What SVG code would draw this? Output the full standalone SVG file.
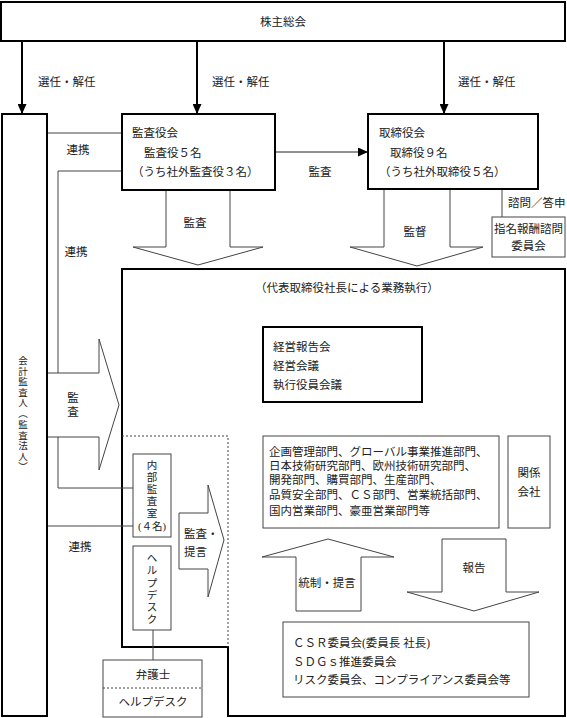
<svg xmlns="http://www.w3.org/2000/svg" width="567" height="718" viewBox="0 0 567 718">
<defs>
<style>
text{font-family:"Liberation Serif","Noto Sans CJK JP",serif;font-size:11.5px;fill:#222;dominant-baseline:central}
.c{text-anchor:middle}
.v{font-size:9.5px;text-anchor:middle}
.s{font-size:10.5px;text-anchor:middle}
.bx{fill:#fff;stroke:#000;stroke-width:2}
.tb{fill:#fff;stroke:#444;stroke-width:1}
.ln{fill:none;stroke:#444;stroke-width:1}
.ha{fill:#fff;stroke:#444;stroke-width:1}
.dash{fill:none;stroke:#444;stroke-width:1;stroke-dasharray:2,2}
.ar{fill:none;stroke:#000;stroke-width:2}
</style>
<marker id="ah" markerUnits="userSpaceOnUse" markerWidth="10" markerHeight="9" refX="10" refY="4.5" orient="auto">
<path d="M0,0 L10,4.5 L0,9 Z" fill="#000"/>
</marker>
</defs>
<rect width="567" height="718" fill="#fff"/>

<g id="executive-area">
<path d="M122,269 H565 V716 H228 V647 H122 Z" class="bx"/>
<path d="M122,436 H228 V647" class="dash"/>
<text x="255" y="288">（代表取締役社長による業務執行）</text>
</g>

<g id="connectors">
<line x1="22" y1="41" x2="22" y2="114" class="ar" marker-end="url(#ah)"/>
<line x1="197" y1="41" x2="197" y2="114" class="ar" marker-end="url(#ah)"/>
<line x1="444" y1="41" x2="444" y2="114" class="ar" marker-end="url(#ah)"/>
<text x="38" y="82">選任・解任</text>
<text x="212" y="82">選任・解任</text>
<text x="458" y="82">選任・解任</text>
<line x1="275" y1="152" x2="368" y2="152" stroke="#222" stroke-width="1" marker-end="url(#ah)"/>
<text x="320" y="172" class="c">監査</text>
<path d="M47,133 H122" class="ln"/>
<text x="78" y="150" class="c">連携</text>
<path d="M122,171 H58 V373 M58,437 V488 H133" class="ln"/>
<text x="76" y="252" class="c">連携</text>
<path d="M47,526 H133" class="ln"/>
<text x="80" y="547" class="c">連携</text>
<path d="M502,189 V217" class="ln"/>
<text x="508" y="203">諮問／答申</text>
<path d="M153,630 V660" class="ln"/>
<polyline points="166,190 166,247 133,247 198,265 263,247 230,247 230,190" class="ha"/>
<text x="195" y="223" class="c">監査</text>
<polyline points="384,189 384,247 350,247 417,266 483,247 450,247 450,189" class="ha"/>
<text x="415" y="232" class="c">監督</text>
<polyline points="47,373 99,373 99,339 119,405 99,470 99,437 47,437" class="ha"/>
<text x="73" y="398" class="c">監</text>
<text x="73" y="412" class="c">査</text>
<polygon points="179,513 208,513 208,485 224,540 208,597 208,569 179,569" class="ha"/>
<text x="184" y="534">監査・</text>
<text x="184" y="552">提言</text>
<polygon points="296,611 296,557 262,557 328,539 394,557 361,557 361,611" class="ha"/>
<text x="327" y="583" class="c">統制・提言</text>
<polygon points="442,539 506,539 506,592 539,592 474,611 407,592 442,592" class="ha"/>
<text x="474" y="568" class="c">報告</text>
</g>

<g id="shareholders">
<rect x="1" y="2" width="564" height="39" class="bx"/>
<text x="283" y="22" class="c">株主総会</text>
</g>

<g id="auditor">
<rect x="2" y="114" width="45" height="602" class="bx"/>
<text class="v" x="23" y="361">会</text>
<text class="v" x="23" y="371.5">計</text>
<text class="v" x="23" y="382">監</text>
<text class="v" x="23" y="392.5">査</text>
<text class="v" x="23" y="403">人</text>
<text class="v" x="23" y="414">︵</text>
<text class="v" x="23" y="425">監</text>
<text class="v" x="23" y="435.5">査</text>
<text class="v" x="23" y="446">法</text>
<text class="v" x="23" y="456.5">人</text>
<text class="v" x="23" y="467">︶</text>
</g>

<g id="audit-board">
<rect x="122" y="114" width="153" height="76" class="bx"/>
<text x="132" y="133">監査役会</text>
<text x="144" y="153">監査役５名</text>
<text x="132" y="172">（うち社外監査役３名）</text>
</g>

<g id="board">
<rect x="368" y="114" width="170" height="75" class="bx"/>
<text x="379" y="133">取締役会</text>
<text x="390" y="153">取締役９名</text>
<text x="379" y="172">（うち社外取締役５名）</text>
</g>

<g id="nomination-committee">
<rect x="492" y="217" width="73" height="40" class="tb"/>
<text x="528.5" y="229" class="c">指名報酬諮問</text>
<text x="528.5" y="246" class="c">委員会</text>
</g>

<g id="management-meetings">
<rect x="263" y="327" width="159" height="75" class="bx"/>
<text x="273" y="347">経営報告会</text>
<text x="273" y="366">経営会議</text>
<text x="273" y="385">執行役員会議</text>
</g>

<g id="departments">
<rect x="263" y="436" width="236" height="92" class="tb"/>
<text x="269" y="452">企画管理部門、グローバル事業推進部門、</text>
<text x="269" y="466">日本技術研究部門、欧州技術研究部門、</text>
<text x="269" y="480">開発部門、購買部門、生産部門、</text>
<text x="269" y="495">品質安全部門、ＣＳ部門、営業統括部門、</text>
<text x="269" y="511">国内営業部門、豪亜営業部門等</text>
</g>

<g id="affiliates">
<rect x="508" y="436" width="42" height="92" class="tb"/>
<text x="529" y="473" class="c">関係</text>
<text x="529" y="492" class="c">会社</text>
</g>

<g id="committees">
<rect x="283" y="622" width="246" height="75" class="tb"/>
<text x="293" y="643">ＣＳＲ委員会(委員長 社長)</text>
<text x="293" y="662">ＳＤＧｓ推進委員会</text>
<text x="293" y="680">リスク委員会、コンプライアンス委員会等</text>
</g>

<g id="internal-audit">
<rect x="133" y="454" width="38" height="83" class="tb"/>
<text class="s" x="152" y="465">内</text>
<text class="s" x="152" y="477">部</text>
<text class="s" x="152" y="489">監</text>
<text class="s" x="152" y="501">査</text>
<text class="s" x="152" y="513">室</text>
<text class="s" x="152" y="526" font-size="10">(４名)</text>
</g>

<g id="helpdesk">
<rect x="133" y="546" width="38" height="84" class="tb"/>
<text class="s" x="152" y="558">ヘ</text>
<text class="s" x="152" y="570">ル</text>
<text class="s" x="152" y="583">プ</text>
<text class="s" x="152" y="595">デ</text>
<text class="s" x="152" y="607">ス</text>
<text class="s" x="152" y="619">ク</text>
</g>

<g id="lawyer">
<rect x="103" y="660" width="99" height="57" class="tb"/>
<path d="M103,688 H202" class="dash"/>
<text x="153" y="675" class="c">弁護士</text>
<text x="153" y="702" class="c">ヘルプデスク</text>
</g>
</svg>
